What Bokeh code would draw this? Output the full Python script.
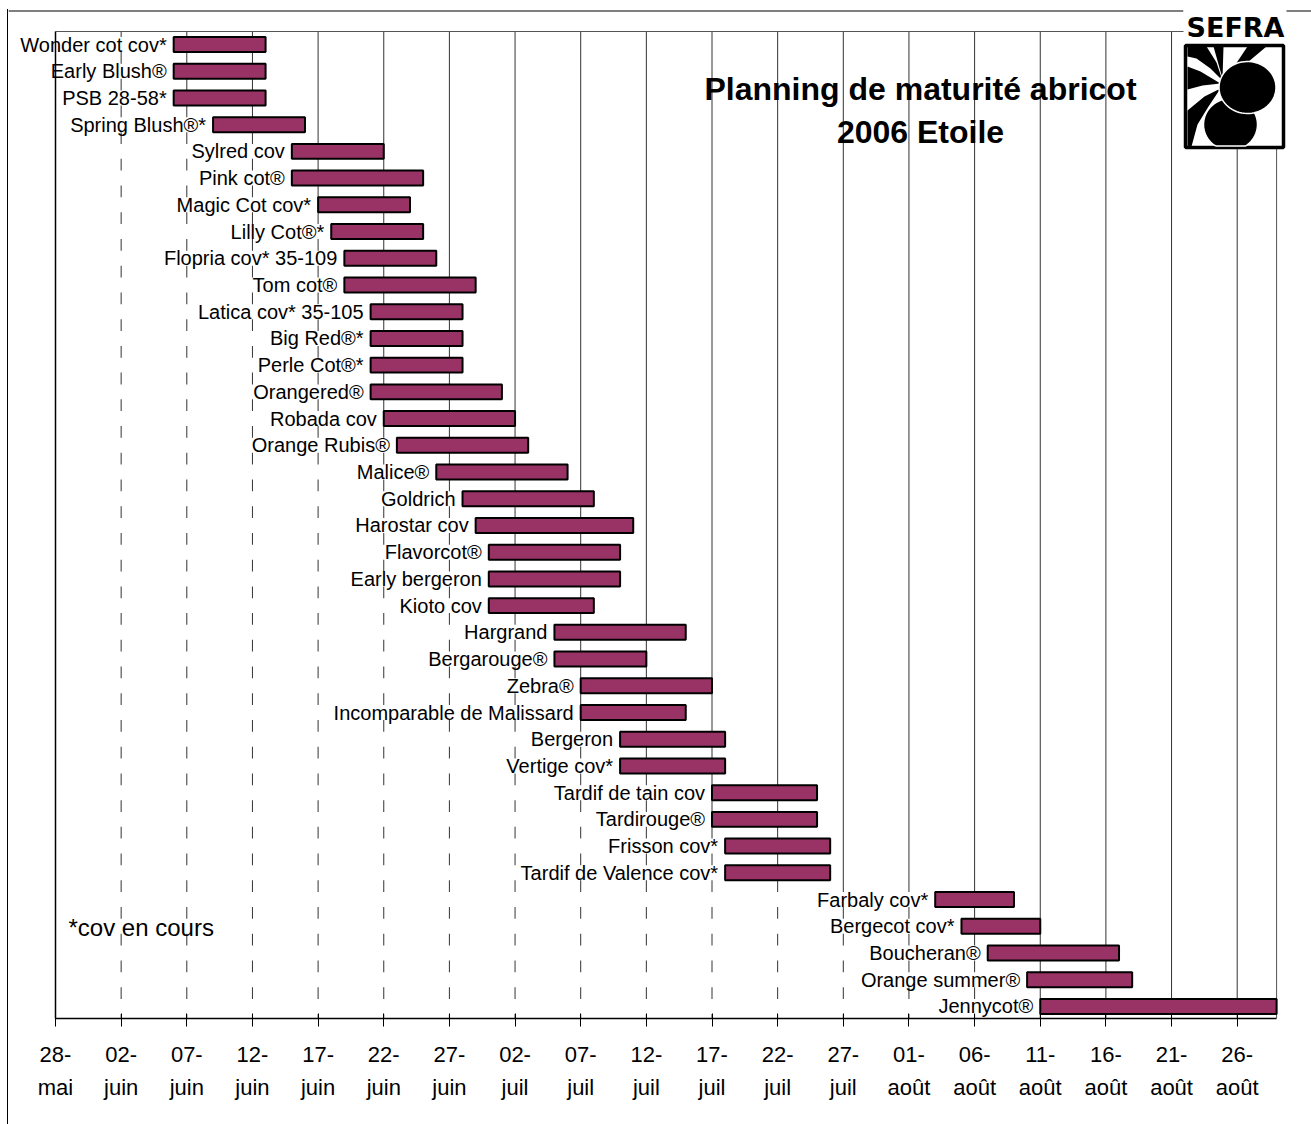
import numpy as np
import pandas as pd
from bokeh.plotting import figure
from bokeh.models import ColumnDataSource, Range1d, FixedTicker, Label
from bokeh.core.properties import value
from bokeh.embed import file_html
from bokeh.resources import INLINE

# ---------------- data ----------------
varieties = ["Wonder cot cov*", "Early Blush®", "PSB 28-58*", "Spring Blush®*", "Sylred cov",
             "Pink cot®", "Magic Cot cov*", "Lilly Cot®*", "Flopria cov* 35-109", "Tom cot®",
             "Latica cov* 35-105", "Big Red®*", "Perle Cot®*", "Orangered®", "Robada cov",
             "Orange Rubis®", "Malice®", "Goldrich", "Harostar cov", "Flavorcot®",
             "Early bergeron", "Kioto cov", "Hargrand", "Bergarouge®", "Zebra®",
             "Incomparable de Malissard", "Bergeron", "Vertige cov*", "Tardif de tain cov",
             "Tardirouge®", "Frisson cov*", "Tardif de Valence cov*", "Farbaly cov*",
             "Bergecot cov*", "Boucheran®", "Orange summer®", "Jennycot®"]
start_dates = ["2006-06-06", "2006-06-06", "2006-06-06", "2006-06-09", "2006-06-15",
               "2006-06-15", "2006-06-17", "2006-06-18", "2006-06-19", "2006-06-19",
               "2006-06-21", "2006-06-21", "2006-06-21", "2006-06-21", "2006-06-22",
               "2006-06-23", "2006-06-26", "2006-06-28", "2006-06-29", "2006-06-30",
               "2006-06-30", "2006-06-30", "2006-07-05", "2006-07-05", "2006-07-07",
               "2006-07-07", "2006-07-10", "2006-07-10", "2006-07-17", "2006-07-17",
               "2006-07-18", "2006-07-18", "2006-08-03", "2006-08-05", "2006-08-07",
               "2006-08-10", "2006-08-11"]
end_dates = ["2006-06-13", "2006-06-13", "2006-06-13", "2006-06-16", "2006-06-22",
             "2006-06-25", "2006-06-24", "2006-06-25", "2006-06-26", "2006-06-29",
             "2006-06-28", "2006-06-28", "2006-06-28", "2006-07-01", "2006-07-02",
             "2006-07-03", "2006-07-06", "2006-07-08", "2006-07-11", "2006-07-10",
             "2006-07-10", "2006-07-08", "2006-07-15", "2006-07-12", "2006-07-17",
             "2006-07-15", "2006-07-18", "2006-07-18", "2006-07-25", "2006-07-25",
             "2006-07-26", "2006-07-26", "2006-08-09", "2006-08-11", "2006-08-17",
             "2006-08-18", "2006-08-31"]
tick_dates = ["2006-05-28", "2006-06-02", "2006-06-07", "2006-06-12", "2006-06-17",
              "2006-06-22", "2006-06-27", "2006-07-02", "2006-07-07", "2006-07-12",
              "2006-07-17", "2006-07-22", "2006-07-27", "2006-08-01", "2006-08-06",
              "2006-08-11", "2006-08-16", "2006-08-21", "2006-08-26"]
tick_labels = ["28-\nmai", "02-\njuin", "07-\njuin", "12-\njuin", "17-\njuin", "22-\njuin",
               "27-\njuin", "02-\njuil", "07-\njuil", "12-\njuil", "17-\njuil", "22-\njuil",
               "27-\njuil", "01-\naoût", "06-\naoût", "11-\naoût", "16-\naoût", "21-\naoût",
               "26-\naoût"]
axis_start = "2006-05-28"
axis_end = "2006-08-29"
title_lines = ["Planning de maturité abricot", "2006 Etoile"]
note_text = "*cov en cours"
logo_text = "SEFRA"

# ---------------- derived ----------------
origin = pd.Timestamp(axis_start)
def day(s):
    return float((pd.Timestamp(s) - origin).days)

x_max = day(axis_end)
starts = np.array([day(s) for s in start_dates])
ends = np.minimum(np.array([day(s) for s in end_dates]), x_max)
rows = list(range(len(varieties)))
ticks = [day(s) for s in tick_dates]

src = ColumnDataSource(dict(name=varieties, start=starts, end=ends, row=rows,
                            zero=[0.0] * len(rows)))

# page-pixel geometry (figure placed at page x=8, y=9)
PX0, PY0 = 55.0, 44.0          # page px of day 0 / row 0
KX, KY = 13.13, 26.72          # px per day / px per row
FR_L, FR_R, FR_T, FR_B = 8, 1311, 9, 1018
def px2x(px):
    return (px - PX0) / KX
def py2y(py):
    return (py - PY0) / KY

p = figure(width=FR_R - FR_L, height=(FR_B - FR_T) + (1124 - FR_B),
           frame_width=FR_R - FR_L, frame_height=FR_B - FR_T,
           output_backend="svg", toolbar_location=None,
           x_range=Range1d(px2x(FR_L), px2x(FR_R)),
           y_range=Range1d(py2y(FR_B), py2y(FR_T)),
           y_axis_location=None,
           min_border_left=0, min_border_right=0, min_border_top=0,
           min_border_bottom=1124 - FR_B)
p.styles = {"margin-left": "7px", "margin-top": "9px", "border-left": "1px solid black"}
p.background_fill_color = "white"
p.border_fill_color = "white"
p.outline_line_color = None
p.grid.grid_line_color = None

# x axis
p.xaxis.bounds = (0, x_max)
p.xaxis.ticker = FixedTicker(ticks=ticks)
p.xaxis.major_label_overrides = {t: lab for t, lab in zip(ticks, tick_labels)}
p.xaxis.major_label_text_font = "Liberation Sans"
p.xaxis.major_label_text_font_size = "22px"
p.xaxis.major_label_text_color = "black"
p.xaxis.major_label_text_line_height = 1.34
p.xaxis.major_label_standoff = 15
p.xaxis.major_tick_in = 5
p.xaxis.major_tick_out = 8
p.xaxis.major_tick_line_color = "black"
p.xaxis.minor_tick_line_color = None
p.xaxis.axis_line_color = "black"
p.xaxis.axis_line_width = 1.5

plot_top = py2y(31)
plot_bot = py2y(FR_B)

# vertical gridlines at every tick (except the axis itself)
gx = ticks[1:]
p.segment(x0=gx, y0=[plot_top] * len(gx), x1=gx, y1=[plot_bot] * len(gx),
          line_color="#333333", line_width=1)
# plot-area border (top and right)
p.segment(x0=[0, x_max], y0=[plot_top, plot_top], x1=[x_max, x_max], y1=[plot_top, plot_bot],
          line_color="#555555", line_width=1)

BAR_H = 0.56
# invisible (white) lead bars covering the gridlines, as in the original
p.hbar(y="row", left="zero", right="start", height=BAR_H, source=src,
       fill_color="white", line_color=None)
# maturity bars
p.hbar(y="row", left="start", right="end", height=BAR_H, source=src,
       fill_color="#993366", line_color="black", line_width=2)

# left axis line of the plot area
p.segment(x0=[0], y0=[plot_top], x1=[0], y1=[plot_bot], line_color="black", line_width=1.5)

# variety names
p.text(x="start", y="row", text="name", source=src, x_offset=-7,
       text_align="right", text_baseline="middle",
       text_font=value("Liberation Sans"), text_font_size="20px", text_color="black")

# title
for i, t in enumerate(title_lines):
    p.add_layout(Label(x=px2x(920), y=py2y(88 + 43 * i), text=t, text_align="center",
                       text_baseline="middle", text_font="Liberation Sans",
                       text_font_style="bold", text_font_size="32px", text_color="black"))

# note
p.add_layout(Label(x=px2x(68), y=py2y(927), text=note_text, text_align="left",
                   text_baseline="middle", text_font="Liberation Sans",
                   text_font_size="24px", text_color="black"))

# outer border top line (interrupted by the logo)
p.segment(x0=[px2x(FR_L), px2x(1285)], y0=[py2y(10.5)] * 2,
          x1=[px2x(1183), px2x(1320)], y1=[py2y(10.5)] * 2,
          line_color="black", line_width=1.2)

# ---- SEFRA logo ----
p.quad(left=[px2x(1183)], right=[px2x(1286)], top=[py2y(9)], bottom=[py2y(44)],
       fill_color="white", line_color=None)
p.text(x=[px2x(1235)], y=[py2y(27)], text=[logo_text], text_align="center",
       text_baseline="middle", text_font=value("DejaVu Sans"), text_font_style="bold",
       text_font_size="27px", text_color="black")
p.quad(left=[px2x(1185)], right=[px2x(1283)], top=[py2y(45)], bottom=[py2y(147)],
       fill_color="white", line_color="black", line_width=3.5)

leaves = [
    [(1187, 46), (1206, 46), (1216, 62), (1222, 80), (1210, 68), (1196, 58), (1187, 56)],
    [(1187, 66), (1200, 71), (1220, 83), (1202, 85), (1187, 89)],
    [(1187, 110), (1204, 96), (1220, 88), (1208, 106), (1197, 124), (1191, 146), (1187, 146)],
    [(1213, 46), (1223, 46), (1222, 78)],
    [(1247, 46), (1266, 46), (1241, 67), (1235, 64)],
]
p.patches(xs=[[px2x(a) for a, b in lf] for lf in leaves],
          ys=[[py2y(b) for a, b in lf] for lf in leaves],
          fill_color="black", line_color=None)

th = np.linspace(0, 2 * np.pi, 72)
circ_xs, circ_ys = [], []
for cx, cy, rx, ry in [(1230, 124, 27, 26), (1247, 87, 28.5, 26)]:
    xs = cx + rx * np.cos(th)
    ys = np.minimum(cy + ry * np.sin(th), 145.5)
    circ_xs.append([px2x(a) for a in xs])
    circ_ys.append([py2y(b) for b in ys])
p.patches(xs=circ_xs, ys=circ_ys, fill_color="black", line_color="white", line_width=1.5)

open("out.html", "w").write(file_html(p, INLINE))
